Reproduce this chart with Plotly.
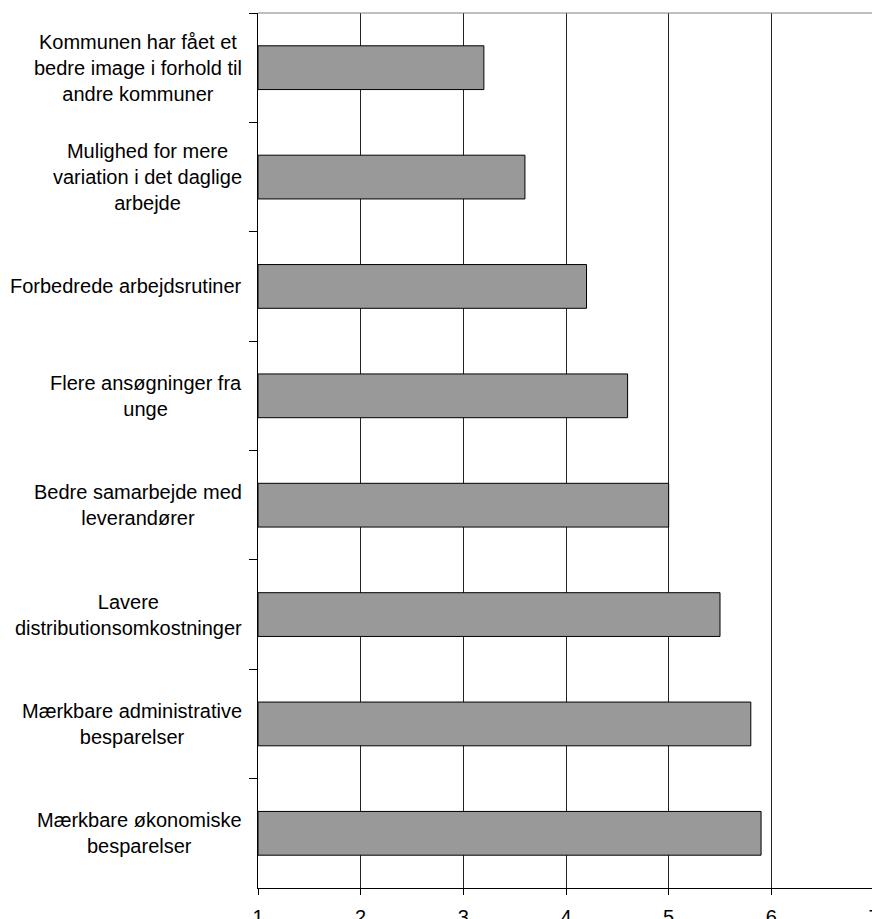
import plotly.graph_objects as go

categories = [
    "Kommunen har fået et<br>bedre image i forhold til<br>andre kommuner",
    "Mulighed for mere<br>variation i det daglige<br>arbejde",
    "Forbedrede arbejdsrutiner",
    "Flere ansøgninger fra<br>unge",
    "Bedre samarbejde med<br>leverandører",
    "Lavere<br>distributionsomkostninger",
    "Mærkbare administrative<br>besparelser",
    "Mærkbare økonomiske<br>besparelser",
]
values = [3.2, 3.6, 4.2, 4.6, 5.0, 5.5, 5.8, 5.9]
x_ticks = [1, 2, 3, 4, 5, 6, 7]
x_min = 1

FONT = "Liberation Sans, Arial, sans-serif"
FS = 20

fig = go.Figure()
fig.add_trace(go.Bar(
    x=[v - x_min for v in values],
    y=categories,
    orientation="h",
    base=x_min,
    marker=dict(color="#999999", line=dict(color="black", width=1)),
    hoverinfo="skip",
))

for c in categories:
    fig.add_annotation(
        x=0, xref="paper", y=c, yref="y",
        text=c, showarrow=False, xanchor="right", yanchor="middle",
        align="center", xshift=-14,
        font=dict(family=FONT, size=FS, color="black"),
    )

fig.update_layout(
    width=880, height=919,
    margin=dict(l=250, r=14, t=5, b=39),
    paper_bgcolor="white", plot_bgcolor="white",
    bargap=0.6,
    showlegend=False,
    font=dict(family=FONT, size=FS, color="black"),
    shapes=[
        dict(type="line", xref="paper", yref="paper", x0=0, x1=1, y0=1, y1=1,
             line=dict(color="#808080", width=1)),
        dict(type="line", xref="paper", yref="paper", x0=1, x1=1, y0=0, y1=1,
             line=dict(color="#808080", width=1)),
    ],
)
fig.update_xaxes(
    range=[1, 7], tickvals=x_ticks, ticktext=[str(t) for t in x_ticks],
    showgrid=True, gridcolor="#222222", gridwidth=1,
    showline=True, linecolor="black", linewidth=1,
    ticks="outside", ticklen=6, tickcolor="black", ticklabelstandoff=5,
    zeroline=False, fixedrange=True, automargin=False,
    tickfont=dict(family=FONT, size=FS, color="black"),
)
fig.update_yaxes(
    autorange="reversed", type="category",
    showticklabels=False, showgrid=False,
    showline=True, linecolor="black", linewidth=1,
    ticks="outside", ticklen=8, tickcolor="black", tickson="boundaries",
    fixedrange=True, automargin=False,
)

fig.write_html("out.html")
